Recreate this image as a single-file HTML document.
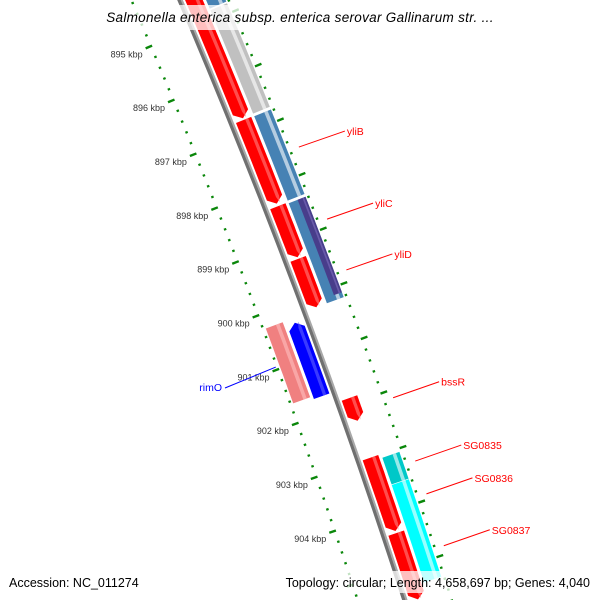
<!DOCTYPE html>
<html><head><meta charset="utf-8"><style>
html,body{margin:0;padding:0;background:#fff;width:600px;height:600px;overflow:hidden;}
svg{display:block;font-family:"Liberation Sans","DejaVu Sans",sans-serif;}
</style></head><body>
<svg id="map" width="600" height="600" viewBox="0 0 600 600" xmlns="http://www.w3.org/2000/svg">
<rect width="600" height="600" fill="#fff"/>
<g id="ticks"></g>
<g id="backbone"></g>
<g id="features"></g>
<g id="labels"></g>
<rect x="86" y="5" width="428" height="25" fill="#fff" opacity="0.75"/>
<text x="300" y="22" text-anchor="middle" font-size="13.5" font-style="italic" fill="#000" letter-spacing="0.3">Salmonella enterica subsp. enterica serovar Gallinarum str. ...</text>
<rect x="4" y="571" width="150" height="22" fill="#fff" opacity="0.75"/>
<text x="9" y="587" font-size="12.5" fill="#000">Accession: NC_011274</text>
<rect x="256" y="571" width="340" height="22" fill="#fff" opacity="0.75"/>
<text x="590" y="587" text-anchor="end" font-size="12.5" fill="#000">Topology: circular; Length: 4,658,697 bp; Genes: 4,040</text>
</svg>
<script>
// ---- data (kbp positions) ----
const tickStart = 893.0;
const tickEnd = 906.0;
const tickStep = 0.2;
const labelKbp = [895, 896, 897, 898, 899, 900, 901, 902, 903, 904];
// forward red band (strand +1)
const redStarts = [892.5, 896.77, 898.36, 899.33, 901.89, 902.99, 904.38, 905.95];
const redEnds   = [896.74, 898.31, 899.30, 900.22, 902.31, 904.34, 905.6, 906.3];
// second band features
const band2Starts = [892.5, 894.83, 896.78, 898.38, 903.06, 903.56];
const band2Ends   = [894.80, 896.73, 898.33, 900.22, 903.55, 905.35];
const band2Colors = ["#4682b4", "#c0c0c0", "#4682b4", "#4682b4", "#00c8c8", "#00ffff"];
const yliDStart = 898.38, yliDEnd = 900.13;
const tailStart = 905.85, tailEnd = 906.3;
// inner (reverse) features
const pinkStart = 900.26, pinkEnd = 901.65;
const blueStart = 900.34, blueEnd = 901.70;
// labels
const labelNames = ["yliB", "yliC", "yliD", "bssR", "SG0835", "SG0836", "SG0837"];
const labelKbpAt = [897.55, 898.87, 899.8, 902.14, 903.3, 903.9, 904.85];

const NS = "http://www.w3.org/2000/svg";
function yb(k){ return 83 + (k - 896) * 54.2; }
function pt(k, r){
  const y = yb(k);
  const x = 180 + 0.4255*y - 8.5e-5*y*y;
  const m = 0.4255 - 1.7e-4*y;
  const L = Math.sqrt(1 + m*m);
  return [x + r/L, y - r*m/L];
}
function mk(tag, attrs, parent){
  const e = document.createElementNS(NS, tag);
  for (const k in attrs) e.setAttribute(k, attrs[k]);
  parent.appendChild(e);
  return e;
}
function featPath(a, b, r1, r2, strand){
  const h = 0.11, pts = [];
  const n = 8;
  let a2 = a, b2 = b;
  if (strand > 0) b2 = Math.max(a, b - h);
  if (strand < 0) a2 = Math.min(b, a + h);
  for (let i=0;i<=n;i++){ pts.push(pt(a2 + (b2-a2)*i/n, r1)); }
  if (strand > 0) pts.push(pt(b, (r1+r2)/2));
  for (let i=n;i>=0;i--){ pts.push(pt(a2 + (b2-a2)*i/n, r2)); }
  if (strand < 0) pts.push(pt(a, (r1+r2)/2));
  return pts.map(p=>p[0].toFixed(1)+","+p[1].toFixed(1)).join(" ");
}
function lineAlong(a, b, r){
  const pts=[]; for(let i=0;i<=20;i++) pts.push(pt(a+(b-a)*i/20, r));
  return pts.map(p=>p[0].toFixed(1)+","+p[1].toFixed(1)).join(" ");
}
function drawFeat(g, a, b, r1, r2, strand, color, light, name){
  const p = mk("polygon", {points: featPath(a,b,r1,r2,strand), fill: color}, g);
  
  
  const w = r2 - r1;
  const hl = mk("polygon", {points: featPath(a,b,r1+w*0.6,r1+w*0.8,strand), fill: light, opacity: 0.6}, g);
  
  
}

// ticks
const tg = document.getElementById("ticks");
const ring = 43.5;
const nT = Math.round((tickEnd - tickStart)/tickStep);
for (let i=0;i<=nT;i++){
  const k = tickStart + i*tickStep;
  const major = Math.abs(k - Math.round(k)) < 1e-6;
  const len = major ? 7 : 2.5;
  for (const side of [-1, 1]){
    const p1 = pt(k, side*ring), p2 = pt(k, side*(ring+len));
    const l = mk("line", {x1:p1[0], y1:p1[1], x2:p2[0], y2:p2[1], stroke:"#0a870a", "stroke-width": major?2.4:2.2}, tg);
    
    
  }
}
labelKbp.forEach(k=>{
  const p = pt(k, -50.5);
  const t = mk("text", {x: p[0]-3, y: p[1]+9, "text-anchor":"end", "font-size":"9", fill:"#333"}, tg);
  t.textContent = k + " kbp";
  
  
});

// backbone
const bg = document.getElementById("backbone");
const b1 = mk("polyline", {points: lineAlong(890, 906.3, -0.8), fill:"none", stroke:"#707070", "stroke-width":3.4}, bg);


const b2 = mk("polyline", {points: lineAlong(890, 906.3, 1.7), fill:"none", stroke:"#a8a8a8", "stroke-width":2}, bg);



// features
const fg = document.getElementById("features");
redStarts.forEach((s,i)=> drawFeat(fg, s, redEnds[i], 4.6, 21, 1, "#ff0000", "#ff8080", "cds-forward-" + i));
band2Starts.forEach((s,i)=> drawFeat(fg, s, band2Ends[i], 24, 42, 0, band2Colors[i], "#ffffff", "feature-band2-" + i));
drawFeat(fg, yliDStart, yliDEnd, 33.5, 42, 0, "#483d8b", "#8070c0", "yliD-feature");
drawFeat(fg, tailStart, tailEnd, 24, 42, 0, "#6a5acd", "#a090f0", "feature-bottom-purple");
drawFeat(fg, pinkStart, pinkEnd, -42, -24, 0, "#f08080", "#ffc0c0", "rimO-feature");
drawFeat(fg, blueStart, blueEnd, -21, -4.6, -1, "#0000ff", "#6060ff", "reverse-cds-blue");

// labels
const lg = document.getElementById("labels");
labelNames.forEach((nm,i)=>{
  const p = pt(labelKbpAt[i], 54);
  const q = [p[0] + 46, p[1] - 16];
  const l = mk("line", {x1:p[0], y1:p[1], x2:q[0], y2:q[1], stroke:"#ff0000", "stroke-width":1}, lg);
  
  
  const t = mk("text", {x:q[0]+2, y:q[1]+4, "font-size":"10.5", fill:"#ff0000"}, lg);
  t.textContent = nm;
  
  
});
{
  const p = pt(900.95, -46);
  const l = mk("line", {x1:p[0], y1:p[1], x2:225, y2:388, stroke:"#0000ff", "stroke-width":1}, lg);
  
  
  const t = mk("text", {x:222, y:391, "text-anchor":"end", "font-size":"10.5", fill:"#0000ff"}, lg);
  t.textContent = "rimO";
  
  
}
</script>
</body></html>
